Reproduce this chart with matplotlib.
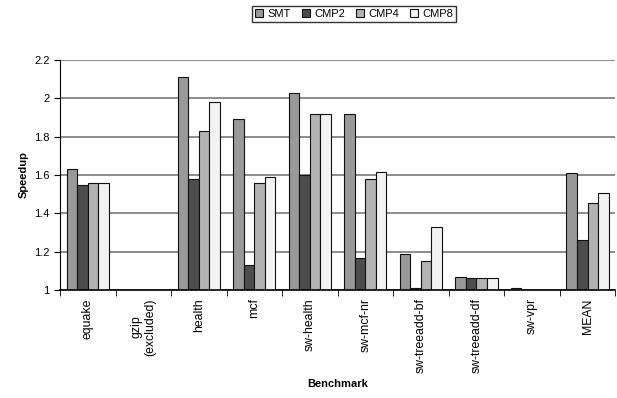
import matplotlib.pyplot as plt
import numpy as np

plt.rcParams['font.family'] = ['Liberation Sans', 'DejaVu Sans']

# Datos
benchmarks = ["equake", "gzip\n(excluded)", "health", "mcf", "sw-health", "sw-mcf-nr",
              "sw-treeadd-bf", "sw-treeadd-df", "sw-vpr", "MEAN"]
series = ["SMT", "CMP2", "CMP4", "CMP8"]
smt = [1.63, np.nan, 2.11, 1.89, 2.03, 1.92, 1.19, 1.07, 1.01, 1.61]
cmp2 = [1.55, np.nan, 1.58, 1.13, 1.60, 1.165, 1.01, 1.06, np.nan, 1.26]
cmp4 = [1.56, np.nan, 1.83, 1.56, 1.92, 1.58, 1.15, 1.06, np.nan, 1.455]
cmp8 = [1.56, np.nan, 1.98, 1.59, 1.92, 1.615, 1.33, 1.06, np.nan, 1.505]
colores = ['#999999', '#4d4d4d', '#b3b3b3', '#f2f2f2']

fig = plt.figure(figsize=(6.17, 3.98), dpi=100)
ax = fig.add_axes([0.0972, 0.2714, 0.9, 0.5776])

x = np.arange(len(benchmarks))
ancho = 0.19
valores = [smt, cmp2, cmp4, cmp8]
for i in range(4):
    ax.bar(x - 1.5 * ancho + i * ancho, valores[i], ancho, color=colores[i],
           edgecolor='#111111', linewidth=0.8, label=series[i], zorder=3)

ax.set_ylim(1, 2.2)
ax.set_yticks(np.arange(1, 2.21, 0.2))
ax.set_yticklabels(["1", "1.2", "1.4", "1.6", "1.8", "2", "2.2"], fontsize=8)
ax.yaxis.grid(True, color='#6e6e6e', linewidth=1.1, zorder=0)
ax.set_xlim(-0.5, len(benchmarks) - 0.5)
ax.set_xticks(x)
ax.set_xticklabels(benchmarks, rotation=90, fontsize=8.8, va='top')
ax.tick_params(axis='x', length=0, pad=6)
ax.set_xticks(np.arange(-0.5, len(benchmarks), 1), minor=True)
ax.tick_params(axis='x', which='minor', length=4, direction='out')
ax.tick_params(axis='y', length=4, direction='out')
ax.spines['top'].set_visible(False)
ax.spines['right'].set_visible(False)
ax.spines['bottom'].set_linewidth(1.2)
ax.spines['bottom'].set_zorder(4)

ax.set_ylabel("Speedup", fontsize=8, fontweight='bold')
ax.set_xlabel("Benchmark", fontsize=8, fontweight='bold')

fig.legend(loc='upper center', bbox_to_anchor=(0.574, 1.0), ncol=4, fontsize=8,
           frameon=True, fancybox=False, edgecolor='black', handlelength=0.7,
           handleheight=0.7, handletextpad=0.4, columnspacing=1.0, borderpad=0.3)

plt.savefig("out.png", dpi=100)
